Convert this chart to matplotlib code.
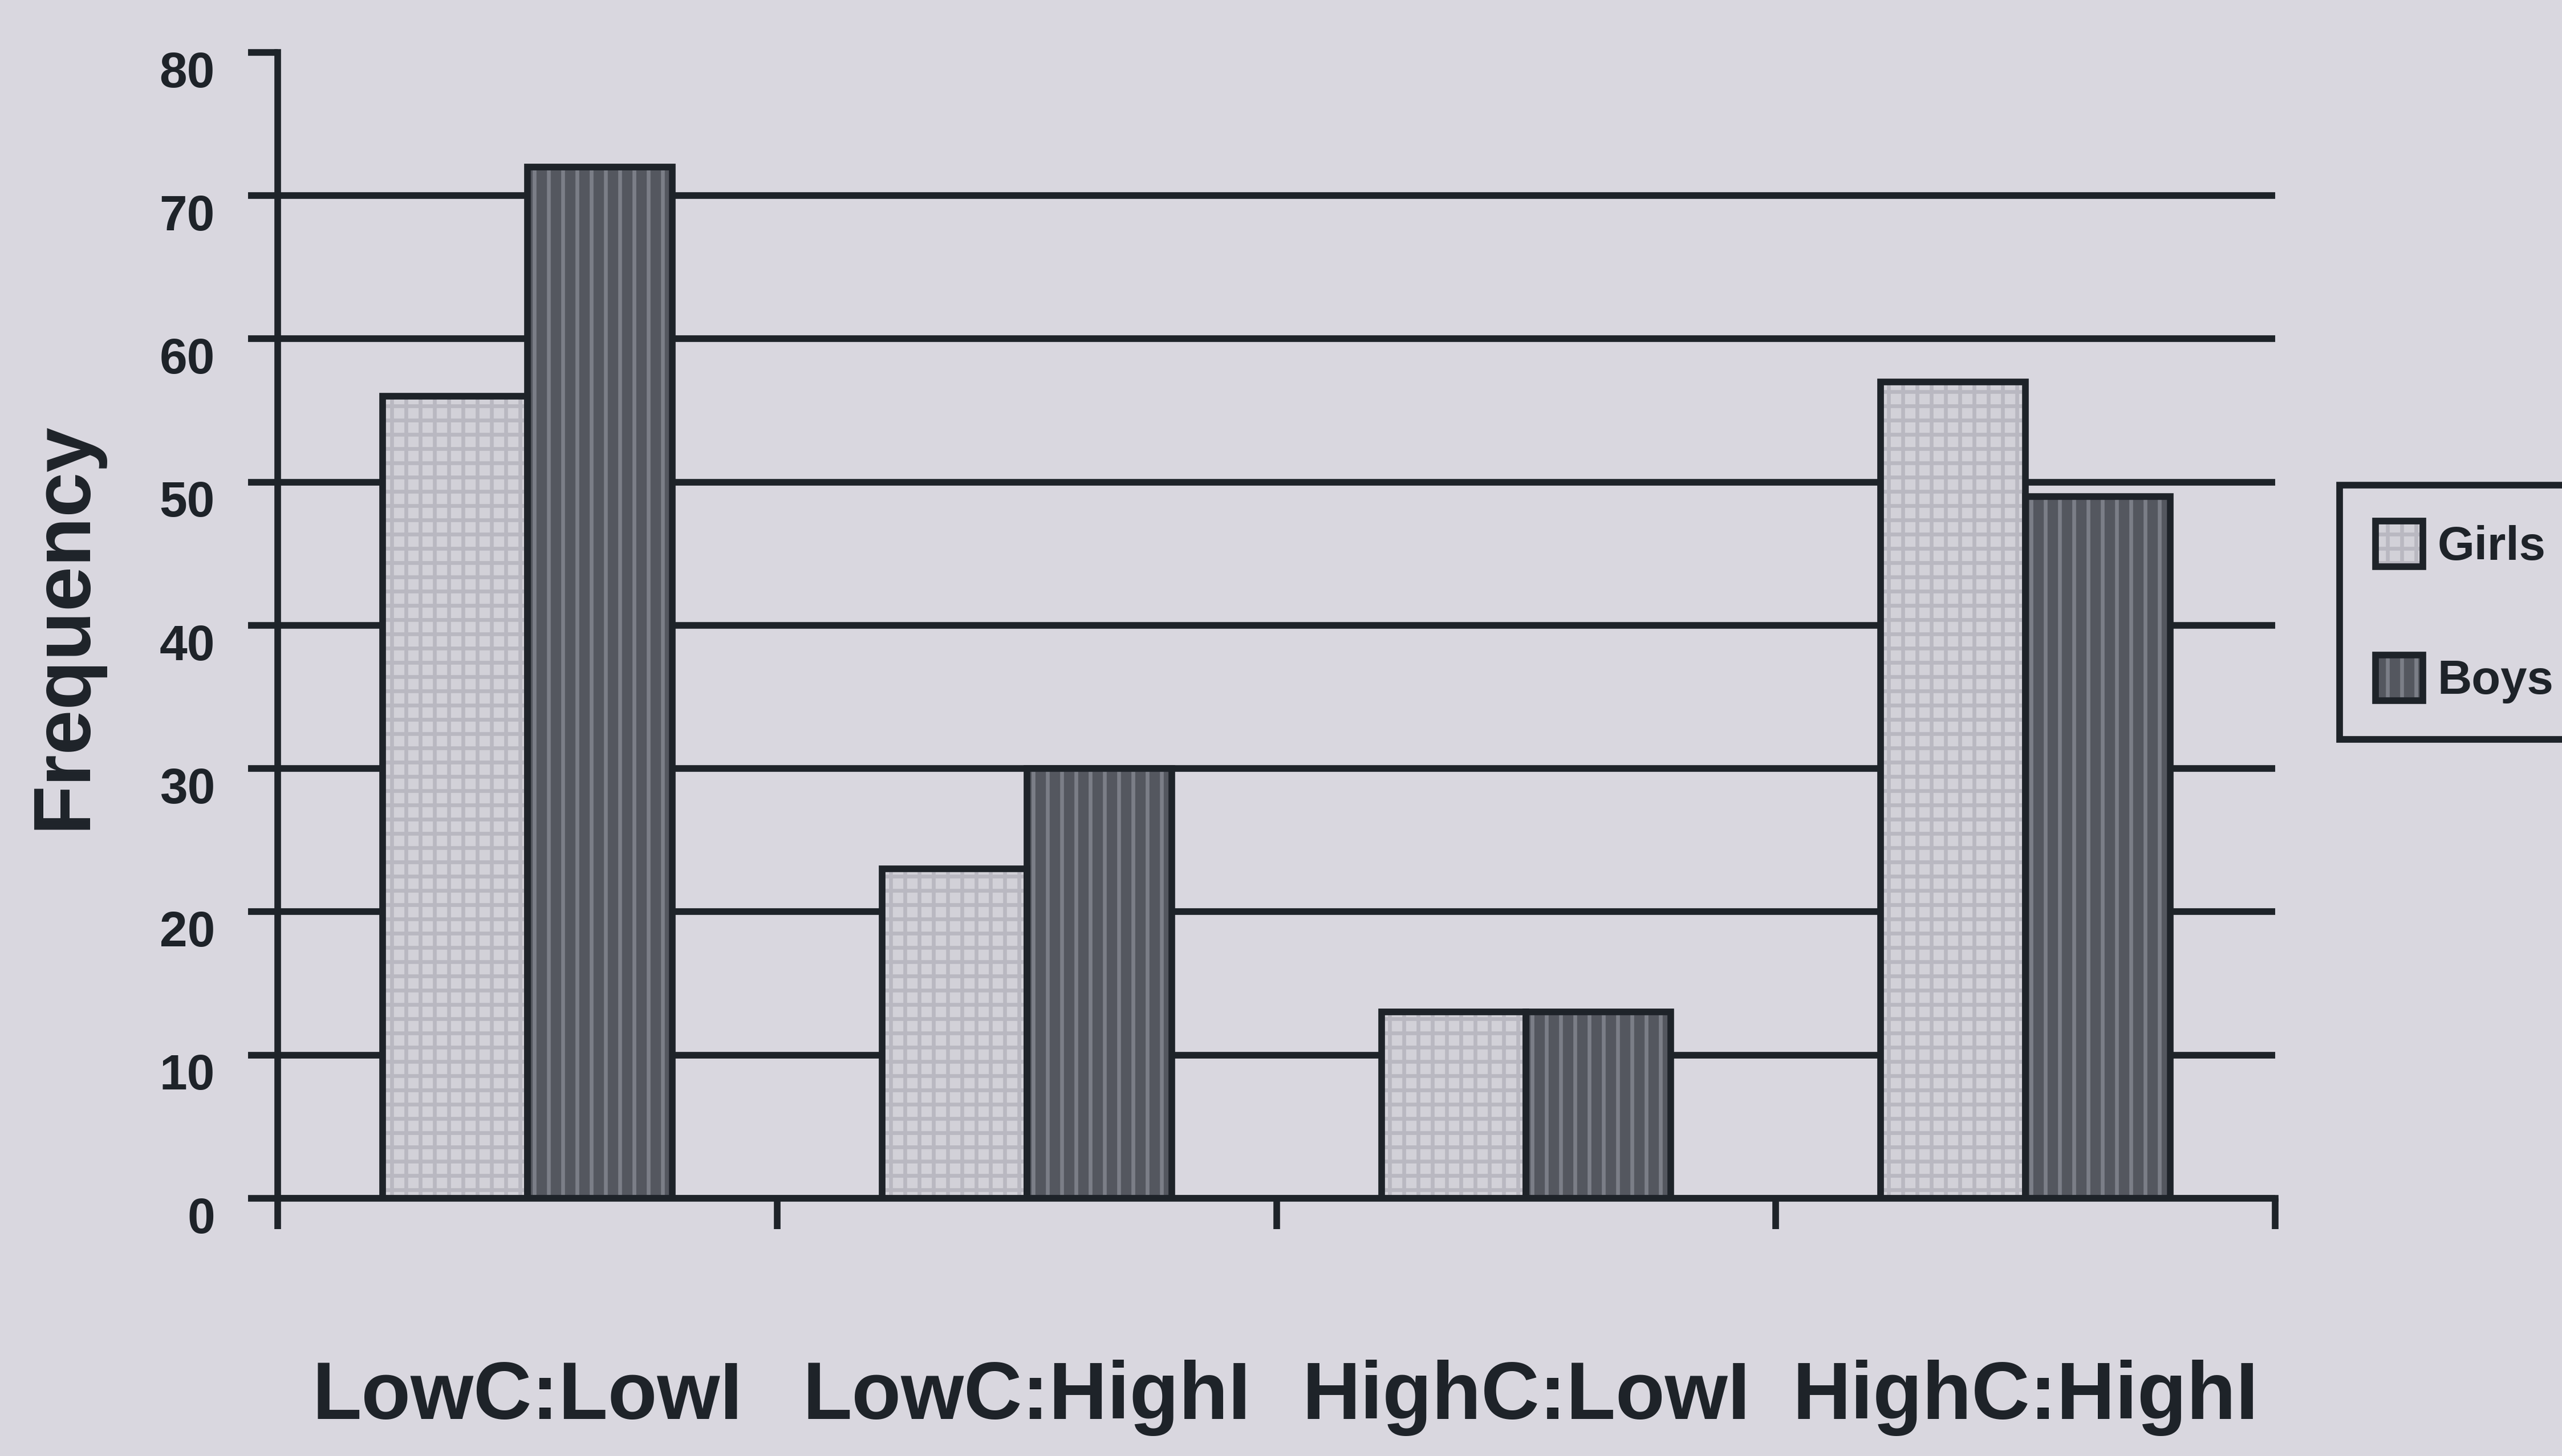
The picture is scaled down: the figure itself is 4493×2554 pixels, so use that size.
import numpy as np
import matplotlib as mpl
mpl.use("Agg")
import matplotlib.pyplot as plt
import matplotlib.transforms as mtransforms

categories = ["LowC:LowI", "LowC:HighI", "HighC:LowI", "HighC:HighI"]
girls = [56, 23, 13, 57]
boys = [72, 30, 13, 49]
series_names = ["Girls", "Boys"]
yticks = [0, 10, 20, 30, 40, 50, 60, 70, 80]

BG = "#d9d7df"
INK = "#1e2329"
GIRL_FILL, GIRL_HATCH = "#d2d1d8", "#b9b8c1"
BOY_FILL, BOY_HATCH = "#54575f", "#7b7e87"

mpl.rcParams.update({
    "font.family": "sans-serif",
    "font.sans-serif": ["Liberation Sans", "Arial", "DejaVu Sans"],
    "font.weight": "bold",
    "axes.labelweight": "bold",
    "hatch.linewidth": 1.6,
})

DPI = 300
fig = plt.figure(figsize=(4493 / DPI, 2554 / DPI), dpi=DPI, facecolor=BG)
ax = fig.add_axes([0.1085, 0.177, 0.7795, 0.787])
ax.set_facecolor(BG)

x = np.arange(len(categories))
w = 0.29
LW = 2.8

gf = ax.bar(x - w / 2, girls, w, color=GIRL_FILL, hatch="++", edgecolor=GIRL_HATCH,
            linewidth=0, zorder=2)
go = ax.bar(x - w / 2, girls, w, fill=False, edgecolor=INK, linewidth=LW, zorder=3)
bf = ax.bar(x + w / 2, boys, w, color=BOY_FILL, hatch="||", edgecolor=BOY_HATCH,
            linewidth=0, zorder=2)
bo = ax.bar(x + w / 2, boys, w, fill=False, edgecolor=INK, linewidth=LW, zorder=3)

ax.set_xlim(-0.5, len(categories) - 0.5)
ax.set_ylim(0, 80)
ax.set_yticks(yticks)
ax.set_yticklabels([str(v) for v in yticks])

# category separators as major ticks, labels on minor ticks at centres
ax.set_xticks(np.arange(len(categories) + 1) - 0.5)
ax.set_xticklabels([])
ax.set_xticks(x, minor=True)
ax.set_xticklabels(categories, minor=True)
ax.tick_params(axis="x", which="major", direction="out", length=13, width=LW, color=INK)
ax.tick_params(axis="x", which="minor", length=0, pad=68, labelsize=34, labelcolor=INK)
ax.tick_params(axis="y", direction="out", length=12.5, width=LW, color=INK, pad=14,
               labelsize=21, labelcolor=INK)

# y labels sit a bit below their lines in the original
off = mtransforms.ScaledTranslation(0, -7 / 72, fig.dpi_scale_trans)
for lab in ax.get_yticklabels():
    lab.set_transform(lab.get_transform() + off)

ax.set_axisbelow(True)
ax.yaxis.grid(True, color=INK, linewidth=LW)
ax.yaxis.get_gridlines()[-1].set_visible(False)

for s in ("top", "right"):
    ax.spines[s].set_visible(False)
for s in ("left", "bottom"):
    ax.spines[s].set_linewidth(LW)
    ax.spines[s].set_color(INK)
    ax.spines[s].set_zorder(4)

ax.set_ylabel("Frequency", fontsize=34, color=INK, fontweight="bold")
ax.yaxis.set_label_coords(-0.088, 0.5)

leg = fig.legend([(gf, go), (bf, bo)], series_names, loc="upper left",
                 bbox_to_anchor=(1432 / 1568, 1 - 297 / 891), fontsize=20,
                 frameon=True, fancybox=False, edgecolor=INK, facecolor=BG,
                 framealpha=1, handlelength=1.0, handleheight=1.1, handletextpad=0.3,
                 labelspacing=1.8, borderpad=0.75, borderaxespad=0)
leg.get_frame().set_linewidth(2.8)
for t in leg.get_texts():
    t.set_color(INK)

fig.savefig("out.png", dpi=DPI, facecolor=BG)
